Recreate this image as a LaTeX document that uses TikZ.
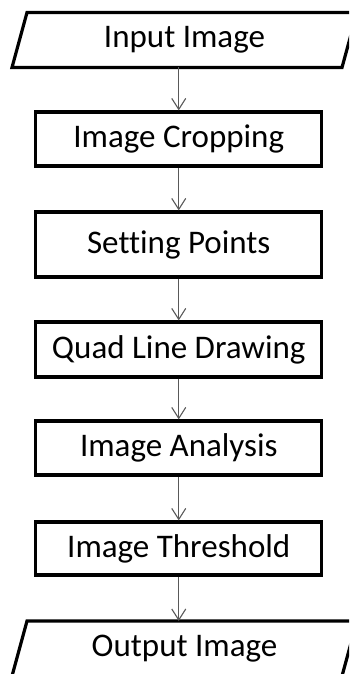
\documentclass[tikz,border=0pt]{standalone}
\usepackage{fontspec}
\setmainfont[Ligatures={NoCommon}]{Carlito}
\usetikzlibrary{arrows.meta}

\begin{document}
\begin{tikzpicture}[
  x=1pt, y=-1pt,
  box/.style={draw, line width=3.2pt, minimum width=286pt, font=\fontsize{33}{38}\selectfont},
  io/.style={outer sep=0pt, minimum width=330pt, minimum height=55pt, font=\fontsize{33}{38}\selectfont},
  iobox/.style={draw, line width=3.2pt},
  arrow/.style={-{Straight Barb[length=11pt,width=14pt]}, line width=1.1pt, black!65}
]
\path[use as bounding box, clip] (0,0) rectangle (349,674);
\node[io] (in) at (184.5,40) {Input Image};
\node[box, minimum height=54pt] (b1) at (178.75,139) {Image Cropping};
\node[box, minimum height=65pt] (b2) at (178.75,244.5) {Setting Points};
\node[box, minimum height=55pt] (b3) at (178.75,349.5) {Quad Line Drawing};
\node[box, minimum height=54pt] (b4) at (178.75,448) {Image Analysis};
\node[box, minimum height=53pt] (b5) at (178.75,548.5) {Image Threshold};
\node[io] (out) at (184.5,648.5) {Output Image};
% slanted input/output frames
\foreach \n in {in,out}
  \draw[iobox] ([xshift=7.5pt]\n.north west) -- ([xshift=7.5pt]\n.north east)
    -- ([xshift=-7.5pt]\n.south east) -- ([xshift=-7.5pt]\n.south west) -- cycle;
\draw[arrow] (in.south -| b1) -- (b1);
\draw[arrow] (b1) -- (b2);
\draw[arrow] (b2) -- (b3);
\draw[arrow] (b3) -- (b4);
\draw[arrow] (b4) -- (b5);
\draw[arrow] (b5) -- (out.north -| b5);
\end{tikzpicture}
\end{document}
